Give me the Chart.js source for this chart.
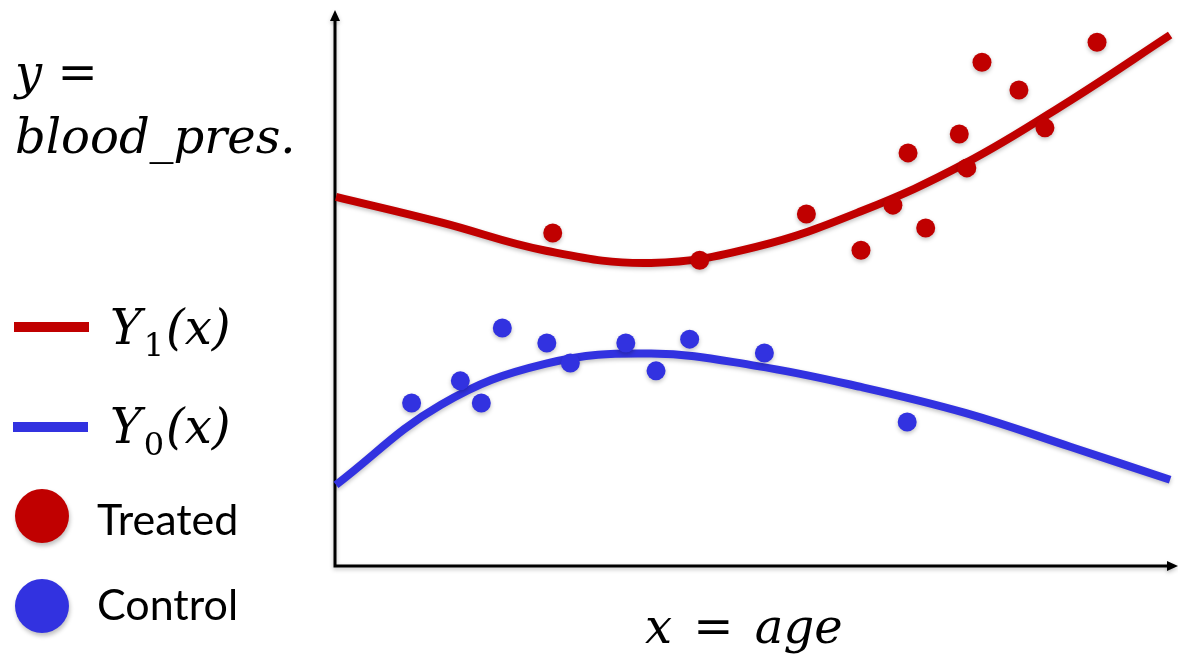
<!DOCTYPE html>
<html>
<head>
<meta charset="utf-8">
<script src="https://cdn.jsdelivr.net/npm/chart.js@4.4.1/dist/chart.umd.min.js"></script>
<style>
  html, body { margin: 0; padding: 0; background: #fff; }
  #wrap { position: relative; width: 1178px; height: 654px; overflow: hidden; }
  #chart { position: absolute; left: 0; top: 0; }
  .math { position: absolute; font-family: "DejaVu Serif", serif; font-style: italic; font-size: 48px; color: #000; white-space: nowrap; line-height: 1; }
  .math sub { font-size: 32px; font-style: normal; vertical-align: -12px; line-height: 1; margin: 0 2px; }
  .sans { position: absolute; font-family: Lato, "Open Sans", sans-serif; font-size: 43px; color: #000; white-space: nowrap; line-height: 1; }
  .swatch { position: absolute; height: 10px; width: 75px; }
  .dot { position: absolute; width: 54px; height: 54px; border-radius: 50%; box-shadow: 1px 3px 4px rgba(0,0,0,0.25); }
</style>
</head>
<body>
<div id="wrap">
  <canvas id="chart" width="1178" height="654"></canvas>
  <div class="math" style="left:15px; top:48px;">y =</div>
  <div class="math" style="left:15px; top:112px;">blood_pres.</div>
  <div class="swatch" style="left:14px; top:322px; background:#c00000;"></div>
  <div class="math" style="left:110px; top:303px;">Y<sub>1</sub>(x)</div>
  <div class="swatch" style="left:13px; top:422px; background:#3232e0;"></div>
  <div class="math" style="left:110px; top:402px;">Y<sub>0</sub>(x)</div>
  <div class="dot" style="left:15px; top:489px; background:#c00000;"></div>
  <div class="sans" style="left:97px; top:497px;">Treated</div>
  <div class="dot" style="left:15px; top:579px; background:#3232e0;"></div>
  <div class="sans" style="left:97px; top:582px;">Control</div>
  <div class="math" style="left:645px; top:602px; word-spacing:6px;">x = age</div>
</div>
<script>
const curveAge = [0, 12.5, 25, 37.5, 50, 62.5, 75, 87.5, 99.3];

// Y1(x): treated outcome curve
const y1Curve = [66.4, 61.8, 56.7, 54.5, 57.4, 63.8, 72.5, 83.8, 95.5];

// Y0(x): control outcome curve
const y0Curve = [14.6, 29.0, 36.4, 38.2, 36.0, 32.2, 27.5, 21.4, 15.5];

// observed points
const treatedAge = [25.8, 43.3, 56.0, 62.5, 66.3, 68.1, 70.2, 74.2, 75.1, 76.9, 81.3, 84.4, 90.6];
const treatedBP = [59.9, 55.0, 63.3, 56.8, 64.9, 74.3, 60.8, 77.7, 71.6, 90.6, 85.6, 78.8, 94.2];
const controlAge = [9.0, 14.8, 17.3, 19.8, 25.1, 27.9, 34.5, 38.1, 42.1, 51.0, 68.0];
const controlBP = [29.3, 33.3, 29.3, 42.8, 40.1, 36.5, 40.1, 35.1, 40.8, 38.3, 25.9];

const red = '#c00000';
const blue = '#3232e0';

const toPts = (xs, ys) => xs.map((x, i) => ({ x: x, y: ys[i] }));

// axes with arrow heads, plus soft shadow under the marks
const axesPlugin = {
    id: 'axes',
    beforeDatasetsDraw(chart) {
        const { ctx, chartArea: a } = chart;
        ctx.save();
        ctx.strokeStyle = '#000';
        ctx.fillStyle = '#000';
        ctx.lineWidth = 3;
        ctx.shadowColor = 'rgba(0,0,0,0.25)';
        ctx.shadowBlur = 4;
        ctx.shadowOffsetY = 2;
        ctx.beginPath();
        ctx.moveTo(335, 18);
        ctx.lineTo(335, a.bottom);
        ctx.lineTo(1170, a.bottom);
        ctx.stroke();
        ctx.beginPath();
        ctx.moveTo(335, 10);
        ctx.lineTo(330, 21);
        ctx.lineTo(340, 21);
        ctx.closePath();
        ctx.fill();
        ctx.beginPath();
        ctx.moveTo(1178, a.bottom);
        ctx.lineTo(1167, a.bottom - 5);
        ctx.lineTo(1167, a.bottom + 5);
        ctx.closePath();
        ctx.fill();
        ctx.restore();
    },
    beforeDatasetDraw(chart) {
        const ctx = chart.ctx;
        ctx.save();
        ctx.shadowColor = 'rgba(0,0,0,0.25)';
        ctx.shadowBlur = 4;
        ctx.shadowOffsetY = 2;
    },
    afterDatasetDraw(chart) {
        chart.ctx.restore();
    }
};

new Chart(document.getElementById('chart'), {
    type: 'scatter',
    data: {
        datasets: [
            {
                label: 'Treated',
                data: toPts(treatedAge, treatedBP),
                backgroundColor: red,
                borderWidth: 0,
                pointRadius: 9.5,
                order: 0
            },
            {
                label: 'Control',
                data: toPts(controlAge, controlBP),
                backgroundColor: blue,
                borderWidth: 0,
                pointRadius: 9.5,
                order: 0
            },
            {
                type: 'line',
                label: 'Y1(x)',
                data: toPts(curveAge, y1Curve),
                borderColor: red,
                borderWidth: 8,
                pointRadius: 0,
                tension: 0.4,
                fill: false,
                order: 1
            },
            {
                type: 'line',
                label: 'Y0(x)',
                data: toPts(curveAge, y0Curve),
                borderColor: blue,
                borderWidth: 8,
                pointRadius: 0,
                tension: 0.4,
                fill: false,
                order: 1
            }
        ]
    },
    options: {
        responsive: false,
        animation: false,
        clip: false,
        layout: { autoPadding: false, padding: { left: 336, right: 2, top: 10, bottom: 88 } },
        plugins: {
            legend: { display: false },
            tooltip: { enabled: false }
        },
        scales: {
            x: { type: 'linear', min: 0, max: 100, display: false },
            y: { type: 'linear', min: 0, max: 100, display: false }
        }
    },
    plugins: [axesPlugin]
});
</script>
</body>
</html>
